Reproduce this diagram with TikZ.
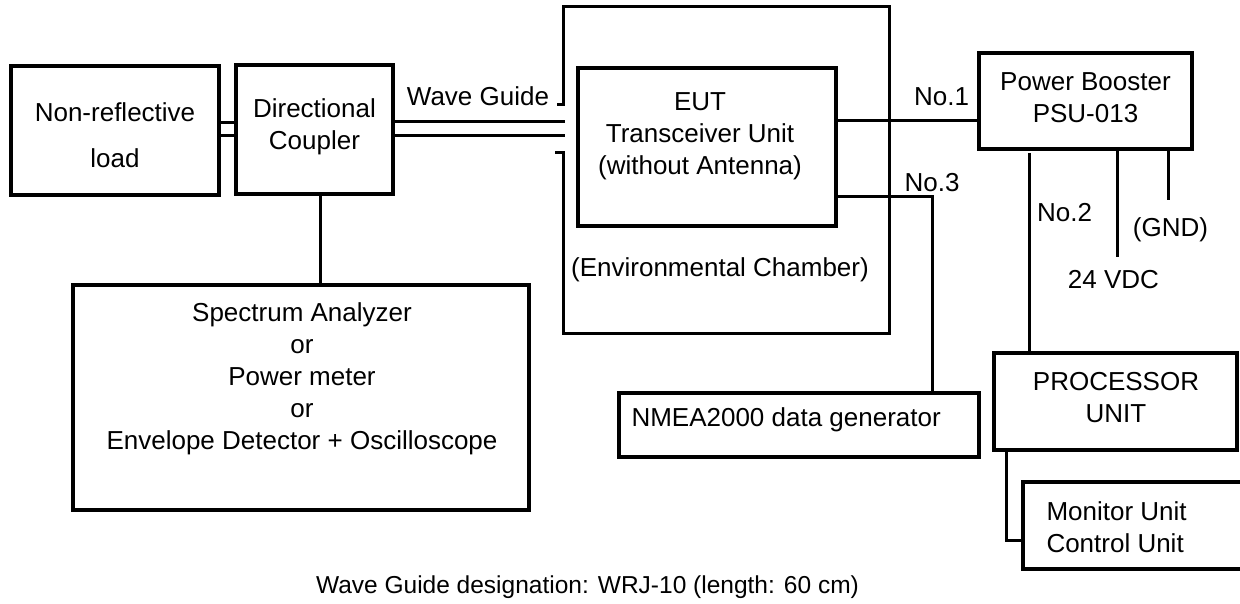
\documentclass[tikz,border=0pt]{standalone}
\usepackage{fontspec}
\setmainfont{Liberation Sans}
\begin{document}
\begin{tikzpicture}[x=1pt,y=-1pt,line width=3pt,line cap=rect,
  box/.style={draw,line width=3.2pt,inner sep=0pt},
  txt/.style={inner sep=0pt,align=center,font=\fontsize{26}{32}\selectfont},
  wire/.style={draw,line width=3pt}]
\useasboundingbox (0,0) rectangle (1240,604);
% boxes
\node[box,minimum width=208pt,minimum height=129pt] (load) at (115,130.5) {};
\node[box,minimum width=157pt,minimum height=129pt] (coupler) at (314.5,129.5) {};
\node[box,minimum width=456pt,minimum height=225pt] (spectrum) at (301,397.5) {};
\node[box,minimum width=258pt,minimum height=158pt] (eut) at (707,147) {};
\node[box,minimum width=213pt,minimum height=96pt] (booster) at (1085.5,101) {};
\node[box,minimum width=360pt,minimum height=64pt] (nmea) at (799,425) {};
\node[box,minimum width=243pt,minimum height=97pt] (proc) at (1115.5,401.5) {};
\node[box,minimum width=227pt,minimum height=87pt] (mon) at (1136.5,525.5) {};
% texts
\node[txt] (loadtxt) at (115,135) {Non-reflective\\[14pt]load};
\node[txt] (couptxt) at (314.5,126.5) {Directional\\Coupler};
\node[txt] (spectxt) at (302,378.5) {Spectrum Analyzer\\or\\Power meter\\or\\Envelope Detector + Oscilloscope};
\node[txt] (euttxt) at (700,136) {EUT\\Transceiver Unit\\(without Antenna)};
\node[txt] (boosttxt) at (1085.5,97.5) {Power Booster\\PSU-013};
\node[txt,anchor=west] (nmeatxt) at (630,420) {NMEA2000 data generator};
\node[txt] (proctxt) at (1116,397.5) {PROCESSOR\\UNIT};
\node[txt,anchor=west,align=left] (montxt) at (1045,527) {Monitor Unit\\Control Unit};
\node[txt] (chambtxt) at (720,270) {(Environmental Chamber)};
\node[txt] (wgtxt) at (478,96) {Wave Guide};
\node[txt] (no1) at (941.5,97) {No.1};
\node[txt] (no3) at (932,183) {No.3};
\node[txt] (no2) at (1064.5,213) {No.2};
\node[txt] (gnd) at (1170.5,230) {(GND)};
\node[txt] (vdc) at (1113.5,280) {24 VDC};
\node[inner sep=0pt,font=\fontsize{24.5}{30}\selectfont] (caption) at (587.5,587) {Wave Guide designation: WRJ-10 (length: 60 cm)};
% environmental chamber wall
\coordinate (chA) at (557,105);
\coordinate (chB) at (555,153);
\draw[line cap=butt] (chA) -- (563,105) -- (563,7) -- (889,7) -- (889,333) -- (563,333) -- (563,153) -- (chB);
% load - coupler
\coordinate (lc1) at (0,123);
\coordinate (lc2) at (0,136);
\draw[wire,line cap=butt] (load.east |- lc1) -- (coupler.west |- lc1);
\draw[wire,line cap=butt] (load.east |- lc2) -- (coupler.west |- lc2);
% wave guide
\coordinate (wg1) at (565,122);
\coordinate (wg2) at (565,136);
\draw[wire,line cap=butt] (coupler.east |- wg1) -- (wg1);
\draw[wire,line cap=butt] (coupler.east |- wg2) -- (wg2);
% coupler - spectrum
\draw[wire] ([xshift=5.5pt]coupler.south) -- ([xshift=5.5pt]coupler.south |- spectrum.north);
% No.1
\draw[wire,line cap=butt] ([yshift=26pt]eut.east) -- ([yshift=26pt]eut.east -| booster.west);
% No.3
\draw[wire,line cap=butt] ([yshift=-50pt]eut.east) -| ([xshift=133pt]nmea.north);
% No.2
\coordinate (n2top) at (1029,153);
\draw[wire,line cap=butt] (n2top) -- (n2top |- proc.north);
% 24 VDC and GND
\coordinate (vdcend) at (1117,257);
\coordinate (gndend) at (1168,200);
\draw[wire,line cap=butt] (vdcend |- booster.south) -- (vdcend);
\draw[wire,line cap=butt] (gndend |- booster.south) -- (gndend);
% processor - monitor
\draw[wire,line cap=butt] ([xshift=-109.5pt]proc.south) |- ([yshift=-14.5pt]mon.west);
\end{tikzpicture}
\end{document}
